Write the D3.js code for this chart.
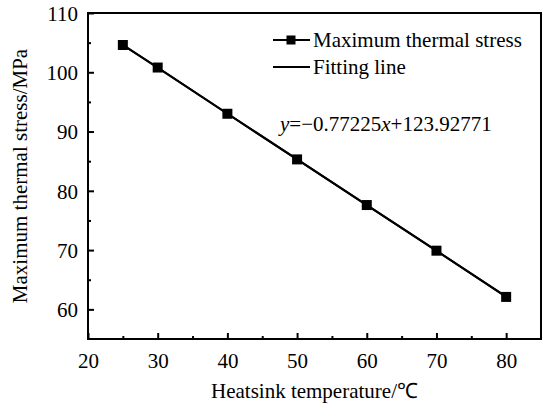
<!DOCTYPE html>
<html><head><meta charset="utf-8">
<script src="https://cdn.jsdelivr.net/npm/d3@7"></script>
<style>body{margin:0;background:#fff}</style>
</head><body><svg id="c" width="553" height="409" font-family="Liberation Serif"></svg>
<script>
const temps = [25, 30, 40, 50, 60, 70, 80];
const stress = [104.6, 100.8, 93.0, 85.3, 77.6, 69.9, 62.1];
const fitSlope = -0.77225, fitIntercept = 123.92771;
const fitRange = [25, 80];
const xTicks = [20, 30, 40, 50, 60, 70, 80];
const yTicks = [60, 70, 80, 90, 100, 110];
const seriesNames = ["Maximum thermal stress", "Fitting line"];

const FONT = "Liberation Serif";
const svg = d3.select("#c");
const L = 88, T = 13, R = 541, B = 339;
const x = d3.scaleLinear().domain([20, 85]).range([L, R]);
const y = d3.scaleLinear().domain([55, 110]).range([B, T]);
const fs = 21;

const xMinor = d3.range(25, 85, 10);
const yMinor = d3.range(65, 110, 10);
const gx = svg.append("g").attr("transform", `translate(0,${B})`)
  .call(d3.axisBottom(x).tickValues(xTicks).tickSizeInner(-6).tickSizeOuter(0).tickPadding(14));
const gxm = svg.append("g").attr("transform", `translate(0,${B})`)
  .call(d3.axisBottom(x).tickValues(xMinor).tickSizeInner(-3).tickSizeOuter(0).tickFormat(""));
const gy = svg.append("g").attr("transform", `translate(${L},0)`)
  .call(d3.axisLeft(y).tickValues(yTicks).tickSizeInner(-6).tickSizeOuter(0).tickPadding(10));
const gym = svg.append("g").attr("transform", `translate(${L},0)`)
  .call(d3.axisLeft(y).tickValues(yMinor).tickSizeInner(-3).tickSizeOuter(0).tickFormat(""));
[gx, gxm, gy, gym].forEach(g => {
  g.attr("font-family", FONT).attr("font-size", fs);
  g.select(".domain").remove();
  g.selectAll("line").attr("stroke", "#000").attr("stroke-width", 2);
  g.selectAll("text").attr("font-family", FONT).attr("font-size", fs).attr("fill", "#000");
});
gy.selectAll("text").attr("dy", "0.35em");

svg.append("rect").attr("x", L).attr("y", T).attr("width", R - L).attr("height", B - T)
  .attr("fill", "none").attr("stroke", "#000").attr("stroke-width", 2);

svg.append("line")
  .attr("x1", x(fitRange[0])).attr("y1", y(fitSlope * fitRange[0] + fitIntercept))
  .attr("x2", x(fitRange[1])).attr("y2", y(fitSlope * fitRange[1] + fitIntercept))
  .attr("stroke", "#000").attr("stroke-width", 2);

const pts = temps.map((t, i) => [t, stress[i]]);
svg.append("path").attr("d", d3.line().x(d => x(d[0])).y(d => y(d[1]))(pts))
  .attr("fill", "none").attr("stroke", "#000").attr("stroke-width", 2);
const ms = 10;
svg.selectAll("rect.m").data(pts).enter().append("rect").attr("class", "m")
  .attr("x", d => x(d[0]) - ms / 2).attr("y", d => y(d[1]) - ms / 2)
  .attr("width", ms).attr("height", ms).attr("fill", "#000");

const lg = svg.append("g").attr("font-family", FONT).attr("font-size", fs);
lg.append("line").attr("x1", 273).attr("x2", 310).attr("y1", 40).attr("y2", 40).attr("stroke", "#000").attr("stroke-width", 2);
lg.append("rect").attr("x", 291 - 4.5).attr("y", 40 - 4.5).attr("width", 9).attr("height", 9).attr("fill", "#000");
lg.append("text").attr("x", 313).attr("y", 47).text(seriesNames[0]);
lg.append("line").attr("x1", 273).attr("x2", 310).attr("y1", 67).attr("y2", 67).attr("stroke", "#000").attr("stroke-width", 2);
lg.append("text").attr("x", 313).attr("y", 74).text(seriesNames[1]);

const eq = svg.append("text").attr("x", 280).attr("y", 131).attr("font-family", FONT).attr("font-size", fs);
eq.append("tspan").attr("font-style", "italic").text("y");
eq.append("tspan").text("=\u2212" + Math.abs(fitSlope).toFixed(5));
eq.append("tspan").attr("font-style", "italic").text("x");
eq.append("tspan").text("+" + fitIntercept.toFixed(5));

svg.append("text").attr("x", (L + R) / 2).attr("y", 398).attr("text-anchor", "middle")
  .attr("font-family", FONT).attr("font-size", fs).text("Heatsink temperature/\u2103");
svg.append("text").attr("transform", `translate(27,${(T + B) / 2}) rotate(-90)`).attr("text-anchor", "middle")
  .attr("font-family", FONT).attr("font-size", fs).text("Maximum thermal stress/MPa");
</script></body></html>
